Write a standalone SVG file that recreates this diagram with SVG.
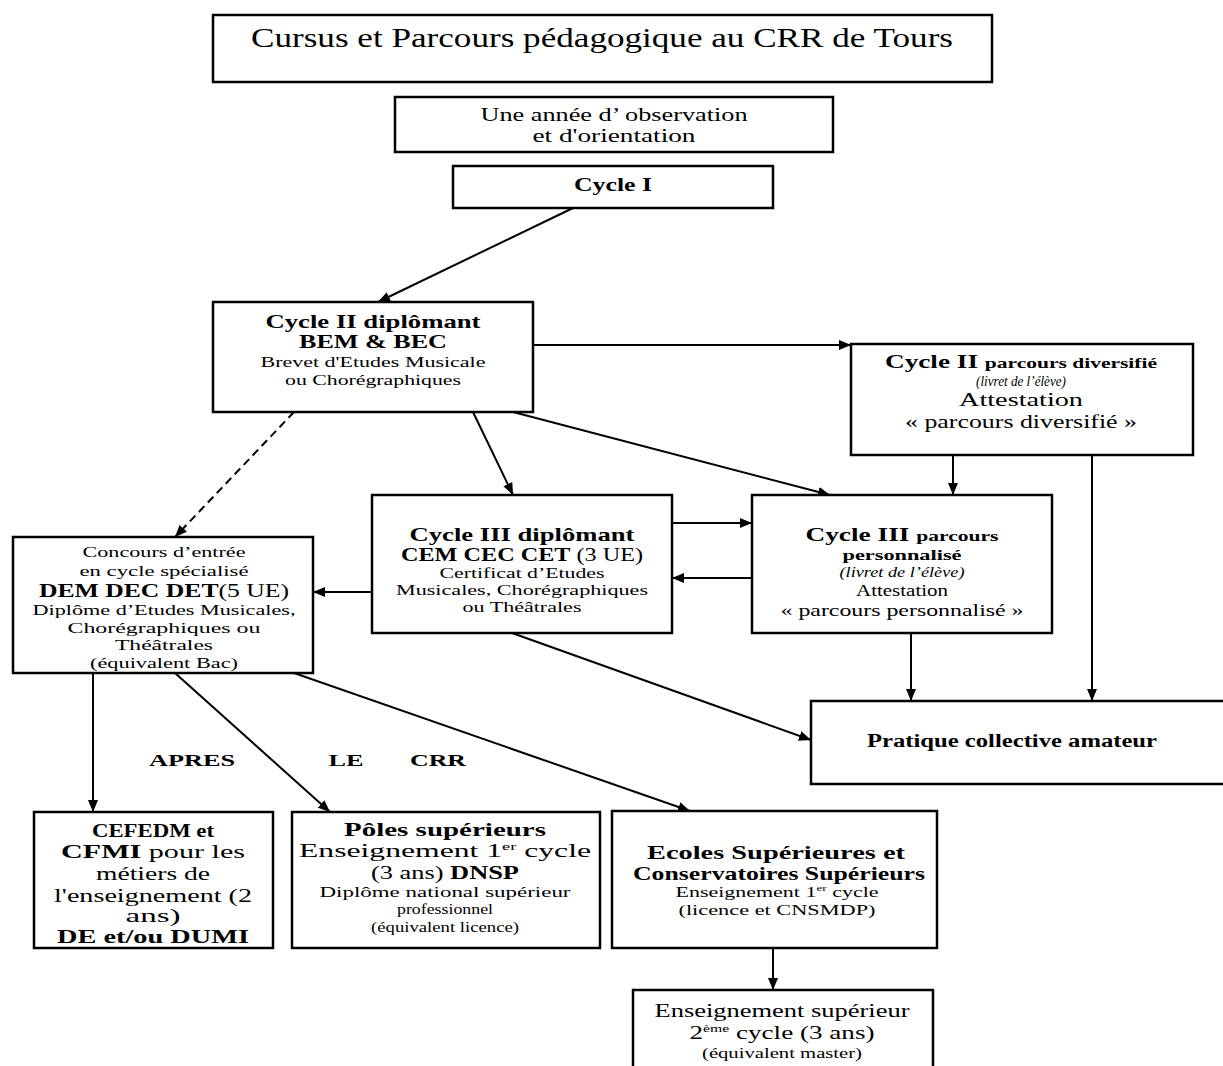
<svg xmlns="http://www.w3.org/2000/svg" width="1223" height="1066" viewBox="0 0 1223 1066">
<style>
text{font-family:"Liberation Serif","Times New Roman",serif;text-anchor:middle;fill:#000}
.b{font-weight:bold}
.i{font-style:italic}
.box{fill:#fff;stroke:#000;stroke-width:2.5}
.c{stroke:#000;stroke-width:2;fill:none;marker-end:url(#ah)}
.d{stroke-dasharray:8 5}
</style>
<defs>
<marker id="ah" viewBox="0 0 12 10" refX="12" refY="5" markerWidth="12" markerHeight="10" markerUnits="userSpaceOnUse" orient="auto"><path d="M0,0 L12,5 L0,10 z" fill="#000"/></marker>
</defs>
<rect width="1223" height="1066" fill="#fff"/>

<g id="connectors">
<line class="c" x1="573" y1="208" x2="378" y2="302"/>
<line class="c" x1="533" y1="345" x2="851" y2="345"/>
<line class="c" x1="473" y1="412" x2="513" y2="495"/>
<line class="c" x1="513" y1="412" x2="830" y2="495"/>
<line class="c d" x1="294" y1="412" x2="175" y2="537"/>
<line class="c" x1="953" y1="455" x2="953" y2="495"/>
<line class="c" x1="1092" y1="455" x2="1092" y2="701"/>
<line class="c" x1="672" y1="523" x2="752" y2="523"/>
<line class="c" x1="752" y1="578" x2="672" y2="578"/>
<line class="c" x1="372" y1="592" x2="313" y2="592"/>
<line class="c" x1="512" y1="633" x2="811" y2="740"/>
<line class="c" x1="911" y1="633" x2="911" y2="701"/>
<line class="c" x1="93" y1="673" x2="93" y2="812"/>
<line class="c" x1="175" y1="673" x2="330" y2="812"/>
<line class="c" x1="294" y1="673" x2="690" y2="811"/>
<line class="c" x1="773" y1="948" x2="773" y2="990"/>
</g>

<g id="title">
<rect class="box" x="213" y="15" width="779" height="67"/>
<text x="602" y="47" font-size="27" textLength="702" lengthAdjust="spacingAndGlyphs">Cursus et Parcours pédagogique au CRR de Tours</text>
</g>

<g id="observation">
<rect class="box" x="395" y="97" width="438" height="55"/>
<text x="614" y="121" font-size="18" textLength="267" lengthAdjust="spacingAndGlyphs">Une année d’ observation</text>
<text x="614" y="142" font-size="18" textLength="163" lengthAdjust="spacingAndGlyphs">et d'orientation</text>
</g>

<g id="cycle1">
<rect class="box" x="453" y="166" width="320" height="42"/>
<text class="b" x="613" y="191" font-size="18" textLength="78" lengthAdjust="spacingAndGlyphs">Cycle I</text>
</g>

<g id="cycle2">
<rect class="box" x="213" y="302" width="320" height="110"/>
<text class="b" x="373" y="328" font-size="19" textLength="215" lengthAdjust="spacingAndGlyphs">Cycle II diplômant</text>
<text class="b" x="373" y="348" font-size="19" textLength="148" lengthAdjust="spacingAndGlyphs">BEM &amp; BEC</text>
<text x="373" y="367" font-size="15" textLength="225" lengthAdjust="spacingAndGlyphs">Brevet d'Etudes Musicale</text>
<text x="373" y="385" font-size="15" textLength="176" lengthAdjust="spacingAndGlyphs">ou Chorégraphiques</text>
</g>

<g id="cycle2-diversifie">
<rect class="box" x="851" y="344" width="342" height="111"/>
<text x="1021" y="368" textLength="272" lengthAdjust="spacingAndGlyphs"><tspan class="b" font-size="19">Cycle II </tspan><tspan class="b" font-size="15">parcours diversifié</tspan></text>
<text class="i" x="1021" y="386" font-size="14" textLength="90" lengthAdjust="spacingAndGlyphs">(livret de l’élève)</text>
<text x="1021" y="406" font-size="18" textLength="124" lengthAdjust="spacingAndGlyphs">Attestation</text>
<text x="1021" y="428" font-size="18" textLength="232" lengthAdjust="spacingAndGlyphs">« parcours diversifié »</text>
</g>

<g id="cycle3">
<rect class="box" x="372" y="495" width="300" height="138"/>
<text class="b" x="522" y="541" font-size="19" textLength="225" lengthAdjust="spacingAndGlyphs">Cycle III diplômant</text>
<text x="522" y="561" font-size="19" textLength="242" lengthAdjust="spacingAndGlyphs"><tspan class="b">CEM CEC CET</tspan> (3 UE)</text>
<text x="522" y="578" font-size="15" textLength="165" lengthAdjust="spacingAndGlyphs">Certificat d’Etudes</text>
<text x="522" y="595" font-size="15" textLength="252" lengthAdjust="spacingAndGlyphs">Musicales, Chorégraphiques</text>
<text x="522" y="612" font-size="15" textLength="119" lengthAdjust="spacingAndGlyphs">ou Théâtrales</text>
</g>

<g id="cycle3-personnalise">
<rect class="box" x="752" y="495" width="300" height="138"/>
<text x="902" y="541" textLength="193" lengthAdjust="spacingAndGlyphs"><tspan class="b" font-size="19">Cycle III </tspan><tspan class="b" font-size="15">parcours</tspan></text>
<text class="b" x="902" y="560" font-size="15" textLength="119" lengthAdjust="spacingAndGlyphs">personnalisé</text>
<text class="i" x="902" y="577" font-size="14" textLength="125" lengthAdjust="spacingAndGlyphs">(livret de l’élève)</text>
<text x="902" y="596" font-size="16" textLength="92" lengthAdjust="spacingAndGlyphs">Attestation</text>
<text x="902" y="616" font-size="16" textLength="243" lengthAdjust="spacingAndGlyphs">« parcours personnalisé »</text>
</g>

<g id="concours">
<rect class="box" x="13" y="537" width="300" height="136"/>
<text x="164" y="557" font-size="15" textLength="163" lengthAdjust="spacingAndGlyphs">Concours d’entrée</text>
<text x="164" y="576" font-size="15" textLength="169" lengthAdjust="spacingAndGlyphs">en cycle spécialisé</text>
<text x="164" y="597" font-size="19" textLength="250" lengthAdjust="spacingAndGlyphs"><tspan class="b">DEM DEC DET</tspan>(5 UE)</text>
<text x="164" y="615" font-size="15" textLength="263" lengthAdjust="spacingAndGlyphs">Diplôme d’Etudes Musicales,</text>
<text x="164" y="633" font-size="15" textLength="193" lengthAdjust="spacingAndGlyphs">Chorégraphiques ou</text>
<text x="164" y="650" font-size="15" textLength="98" lengthAdjust="spacingAndGlyphs">Théâtrales</text>
<text x="164" y="668" font-size="15" textLength="148" lengthAdjust="spacingAndGlyphs">(équivalent Bac)</text>
</g>

<g id="pratique">
<rect class="box" x="811" y="701" width="420" height="83"/>
<text class="b" x="1012" y="747" font-size="18" textLength="290" lengthAdjust="spacingAndGlyphs">Pratique collective amateur</text>
</g>

<g id="apres-label">
<text class="b" x="192" y="766" font-size="17" textLength="86" lengthAdjust="spacingAndGlyphs">APRES</text>
<text class="b" x="346" y="766" font-size="17" textLength="35" lengthAdjust="spacingAndGlyphs">LE</text>
<text class="b" x="438" y="766" font-size="17" textLength="56" lengthAdjust="spacingAndGlyphs">CRR</text>
</g>

<g id="cefedm">
<rect class="box" x="34" y="812" width="239" height="136"/>
<text class="b" x="153" y="837" font-size="19" textLength="122" lengthAdjust="spacingAndGlyphs">CEFEDM et</text>
<text x="153" y="858" font-size="19" textLength="184" lengthAdjust="spacingAndGlyphs"><tspan class="b">CFMI</tspan> pour les</text>
<text x="153" y="880" font-size="19" textLength="114" lengthAdjust="spacingAndGlyphs">métiers de</text>
<text x="153" y="902" font-size="19" textLength="198" lengthAdjust="spacingAndGlyphs">l'enseignement (2</text>
<text x="153" y="922" font-size="19" textLength="55" lengthAdjust="spacingAndGlyphs">ans)</text>
<text class="b" x="153" y="943" font-size="19" textLength="192" lengthAdjust="spacingAndGlyphs">DE et/ou DUMI</text>
</g>

<g id="poles">
<rect class="box" x="292" y="812" width="308" height="136"/>
<text class="b" x="445" y="836" font-size="19" textLength="202" lengthAdjust="spacingAndGlyphs">Pôles supérieurs</text>
<text x="445" y="857" font-size="19" textLength="292" lengthAdjust="spacingAndGlyphs">Enseignement 1<tspan font-size="11" dy="-7">er</tspan><tspan dy="7"> cycle</tspan></text>
<text x="445" y="879" font-size="19" textLength="148" lengthAdjust="spacingAndGlyphs">(3 ans) <tspan class="b">DNSP</tspan></text>
<text x="445" y="897" font-size="15" textLength="251" lengthAdjust="spacingAndGlyphs">Diplôme national supérieur</text>
<text x="445" y="914" font-size="15" textLength="96" lengthAdjust="spacingAndGlyphs">professionnel</text>
<text x="445" y="932" font-size="15" textLength="148" lengthAdjust="spacingAndGlyphs">(équivalent licence)</text>
</g>

<g id="ecoles">
<rect class="box" x="612" y="811" width="325" height="137"/>
<text class="b" x="776" y="859" font-size="19" textLength="258" lengthAdjust="spacingAndGlyphs">Ecoles Supérieures  et</text>
<text class="b" x="779" y="880" font-size="19" textLength="292" lengthAdjust="spacingAndGlyphs">Conservatoires Supérieurs</text>
<text x="777" y="897" font-size="15" textLength="203" lengthAdjust="spacingAndGlyphs">Enseignement 1<tspan font-size="9" dy="-6">er</tspan><tspan dy="6"> cycle</tspan></text>
<text x="777" y="915" font-size="15" textLength="197" lengthAdjust="spacingAndGlyphs">(licence et CNSMDP)</text>
</g>

<g id="superieur2">
<rect class="box" x="633" y="990" width="300" height="90"/>
<text x="782" y="1017" font-size="19" textLength="255" lengthAdjust="spacingAndGlyphs">Enseignement supérieur</text>
<text x="782" y="1039" font-size="19" textLength="185" lengthAdjust="spacingAndGlyphs">2<tspan font-size="11" dy="-7">ème</tspan><tspan dy="7"> cycle (3 ans)</tspan></text>
<text x="782" y="1058" font-size="14" textLength="160" lengthAdjust="spacingAndGlyphs">(équivalent master)</text>
</g>
</svg>
